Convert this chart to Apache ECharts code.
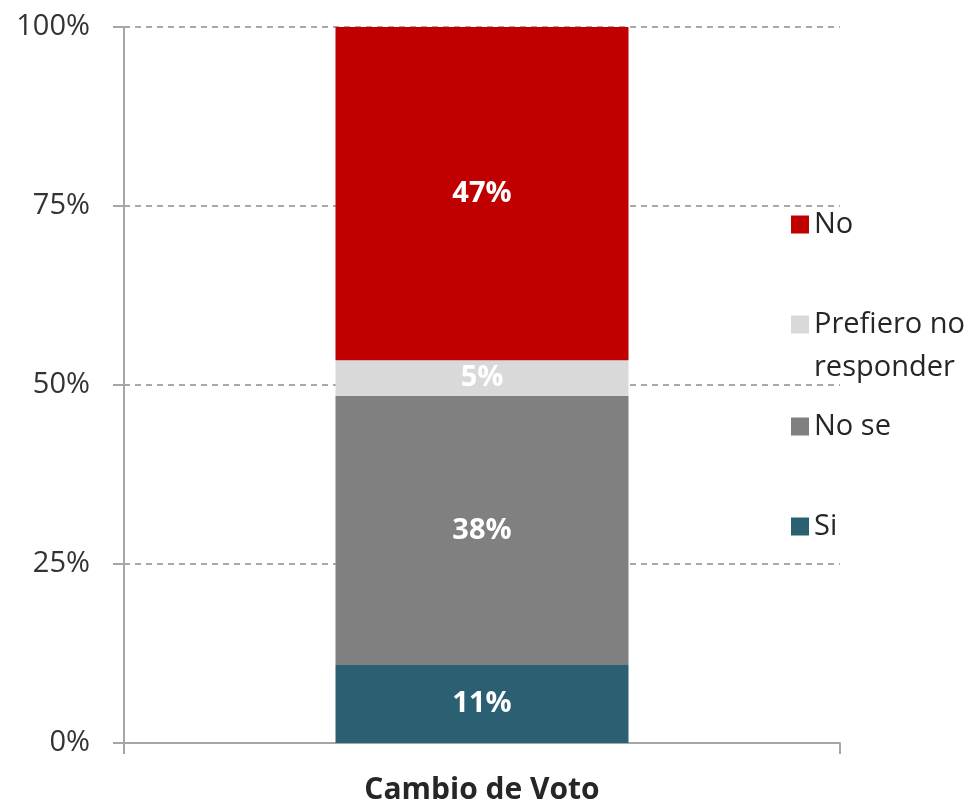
<!DOCTYPE html>
<html>
<head>
<meta charset="utf-8">
<script src="https://cdn.jsdelivr.net/npm/echarts@6/dist/echarts.min.js"></script>
<style>html,body{margin:0;padding:0;background:#fff;}#c{width:972px;height:803px;}</style>
</head>
<body>
<div id="c"></div>
<script>
const categories = ['Cambio de Voto'];
const seriesNames = ['Si', 'No se', 'Prefiero no responder', 'No'];
const si = [11];
const noSe = [38];
const prefiero = [5];
const no = [47];
const yTicks = [0, 25, 50, 75, 100];
const colors = ['#2B6072', '#808080', '#D9D9D9', '#C00000'];

const raw = [si, noSe, prefiero, no];
const totals = categories.map((_, i) => raw.reduce((s, a) => s + a[i], 0));
const FONT = '"Open Sans", "Noto Sans", sans-serif';

const chart = echarts.init(document.getElementById('c'), null, {renderer: 'canvas'});
const series = raw.map((arr, k) => ({
  name: seriesNames[k],
  type: 'bar',
  stack: 'total',
  barWidth: 293,
  itemStyle: {color: colors[k]},
  data: arr.map((v, i) => ({value: v / totals[i] * 100, raw: v})),
  label: {
    show: true,
    position: 'inside',
    color: '#fff',
    fontFamily: FONT,
    fontWeight: 'bold',
    fontSize: 29,
    formatter: p => p.data.raw + '%'
  }
}));

const legendItems = [
  {name: 'No', text: 'No', top: 198},
  {name: 'Prefiero no responder', text: '\nPrefiero no\nresponder', top: 255},
  {name: 'No se', text: 'No se', top: 400},
  {name: 'Si', text: 'Si', top: 500}
];
const legends = legendItems.map(it => ({
  orient: 'vertical',
  left: 786,
  top: it.top,
  itemWidth: 18,
  itemHeight: 18,
  itemGap: 0,
  icon: 'rect',
  selectedMode: false,
  data: [it.name],
  formatter: () => it.text,
  textStyle: {fontFamily: FONT, fontSize: 29, color: '#262626', lineHeight: 43, padding: [0, 0, 0, 0]}
}));

chart.setOption({
  animation: false,
  legend: legends,
  grid: {left: 124, right: 132, top: 27, bottom: 60, containLabel: false, outerBoundsMode: 'none'},
  xAxis: {
    type: 'category',
    data: categories,
    axisLine: {lineStyle: {color: '#A6A6A6', width: 2}},
    axisTick: {show: true, length: 11, lineStyle: {color: '#A6A6A6', width: 2}},
    axisLabel: {fontFamily: FONT, fontWeight: 'bold', fontSize: 30, color: '#262626', margin: 32}
  },
  yAxis: {
    type: 'value',
    min: 0, max: 100, interval: 25,
    axisLine: {show: true, lineStyle: {color: '#A6A6A6', width: 2}},
    axisTick: {show: true, length: 11, lineStyle: {color: '#A6A6A6', width: 2}},
    splitLine: {show: true, lineStyle: {color: '#8C8C8C', type: [6, 5], width: 1.5}},
    axisLabel: {fontFamily: FONT, fontSize: 29, color: '#333', margin: 34,
      formatter: v => yTicks.includes(v) ? v + '%' : ''}
  },
  series: series
});
</script>
</body>
</html>
